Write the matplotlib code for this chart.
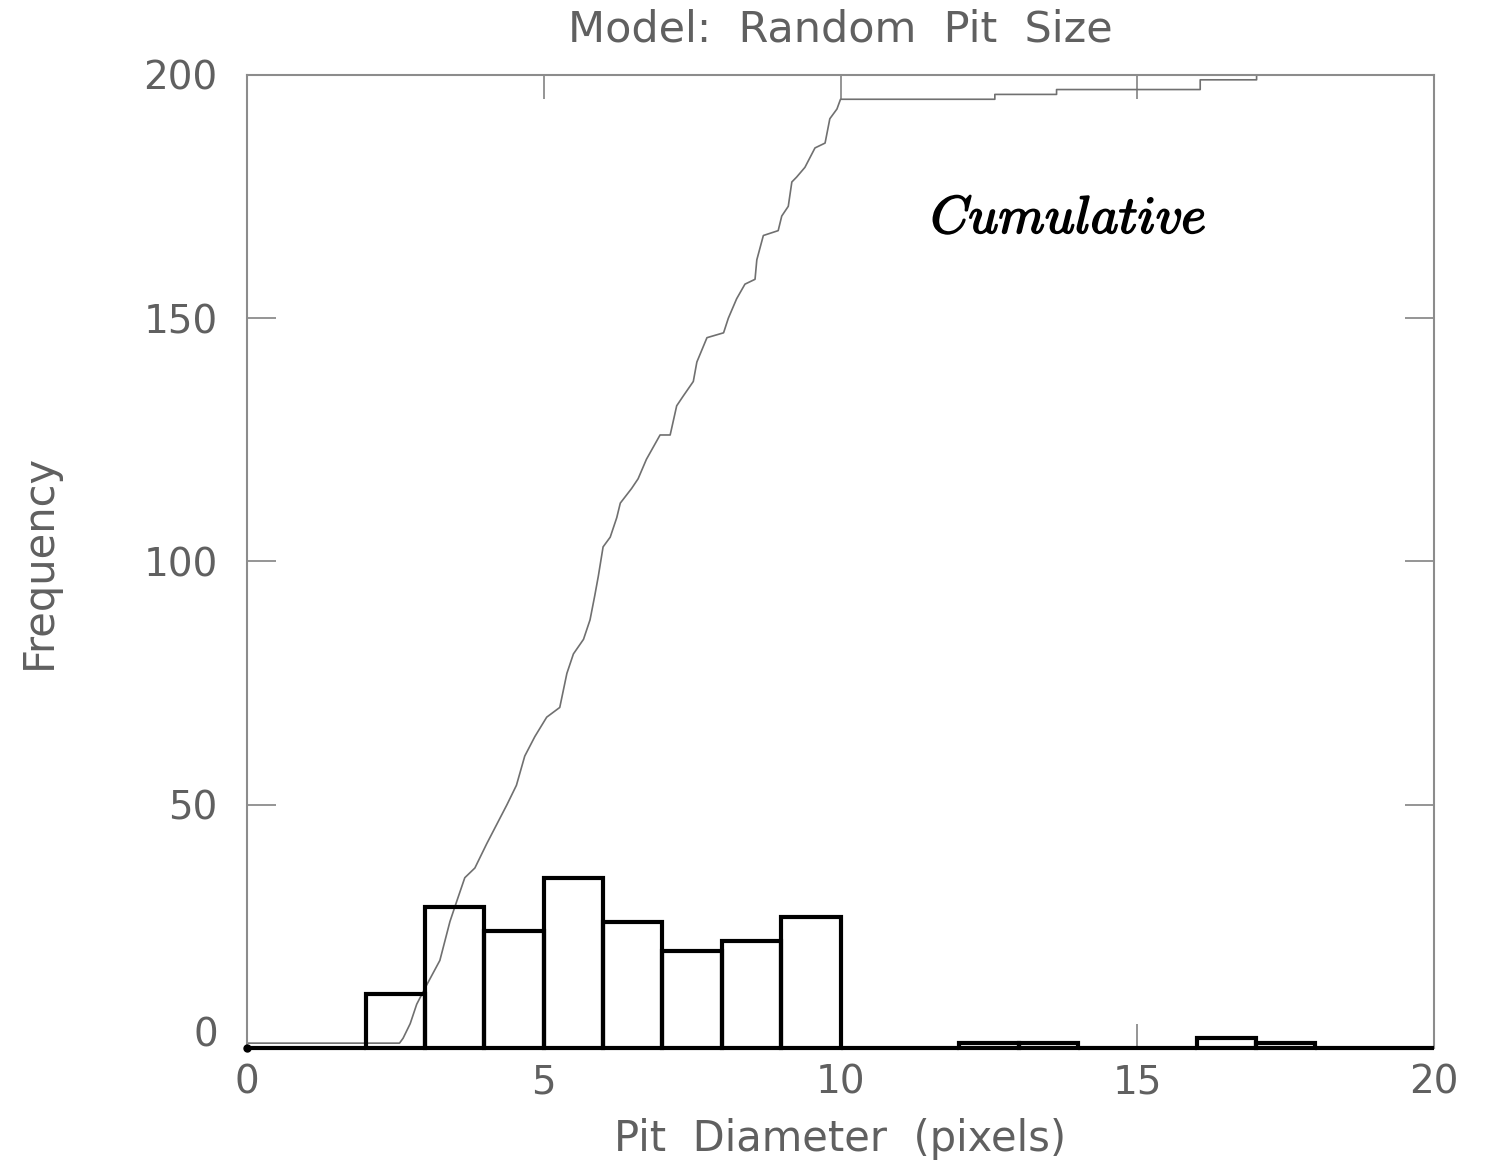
import matplotlib.pyplot as plt
import matplotlib.patheffects as pe
import matplotlib.transforms as mtransforms
import numpy as np

plt.rcParams['mathtext.fontset'] = 'cm'

# histogram of pit diameters (bins of 1 pixel)
bin_edges = np.arange(0, 21)
counts = [0, 0, 11, 29, 24, 35, 26, 20, 22, 27, 0, 0, 1, 1, 0, 0, 2, 1, 0, 0]

# cumulative curve
cum_x = [0, 2.57, 2.63, 2.75, 2.86, 3.03, 3.25, 3.42, 3.53, 3.67, 3.84, 4.04, 4.21,
         4.38, 4.54, 4.68, 4.85, 5.05, 5.27, 5.39, 5.50, 5.67, 5.78, 5.86, 5.92,
         6.00, 6.12, 6.23, 6.29, 6.48, 6.59, 6.73, 6.96, 7.13, 7.24, 7.35, 7.52,
         7.58, 7.75, 8.03, 8.11, 8.25, 8.39, 8.56, 8.59, 8.70, 8.95, 9.01, 9.12,
         9.18, 9.26, 9.40, 9.57, 9.74, 9.82, 9.94, 10.0, 12.6, 12.6, 13.64, 13.64,
         16.06, 16.06, 17.01, 17.01, 20]
cum_y = [1, 1, 2, 5, 9, 13, 18, 26, 30, 35, 37, 42, 46,
         50, 54, 60, 64, 68, 70, 77, 81, 84, 88, 93, 97,
         103, 105, 109, 112, 115, 117, 121, 126, 126, 132, 134, 137,
         141, 146, 147, 150, 154, 157, 158, 162, 167, 168, 171, 173,
         178, 179, 181, 185, 186, 191, 193, 195, 195, 196, 196, 197,
         197, 199, 199, 200, 200]

grey = '#8c8c8c'
text_grey = '#606060'

fig = plt.figure(figsize=(14.85, 11.62), dpi=100)
ax = fig.add_axes([0.1663, 0.0981, 0.7994, 0.8374])

# histogram outlines
ax.bar(bin_edges[:-1], counts, width=1, align='edge', fill=False,
       edgecolor='black', linewidth=3, clip_on=False, zorder=3)
ax.plot([0], [0], 'o', color='black', markersize=5, clip_on=False, zorder=4)

# cumulative
ax.plot(cum_x, cum_y, color='#707070', linewidth=1.2, zorder=2)

ax.text(0.692, 0.853, r'$\mathit{Cumulative}$', transform=ax.transAxes,
        ha='center', va='center', fontsize=38, color='black',
        path_effects=[pe.withStroke(linewidth=1.2, foreground='black')])

ax.set_xlim(0, 20)
ax.set_ylim(0, 200)
ax.set_xticks([0, 5, 10, 15, 20])
ax.set_yticks([0, 50, 100, 150, 200])

for s in ax.spines.values():
    s.set_color(grey)
    s.set_linewidth(1.5)

ax.tick_params(axis='x', direction='in', length=17, width=1.3, color=grey,
               top=True, labelsize=28, labelcolor=text_grey, pad=11)
ax.tick_params(axis='y', direction='in', length=21, width=1.3, color=grey,
               right=True, labelsize=28, labelcolor=text_grey, pad=21)

# the "0" on the y axis sits a little higher
ylabels = ax.get_yticklabels()
ylabels[0].set_transform(ylabels[0].get_transform() +
                         mtransforms.ScaledTranslation(0, 0.17, fig.dpi_scale_trans))

ax.set_xlabel('Pit  Diameter  (pixels)', fontsize=30, color=text_grey, labelpad=12)
ax.set_ylabel('Frequency', fontsize=30, color=text_grey, labelpad=60)
ax.set_title('Model:  Random  Pit  Size', fontsize=31, color=text_grey, pad=24)

fig.savefig('out.png', dpi=100)
